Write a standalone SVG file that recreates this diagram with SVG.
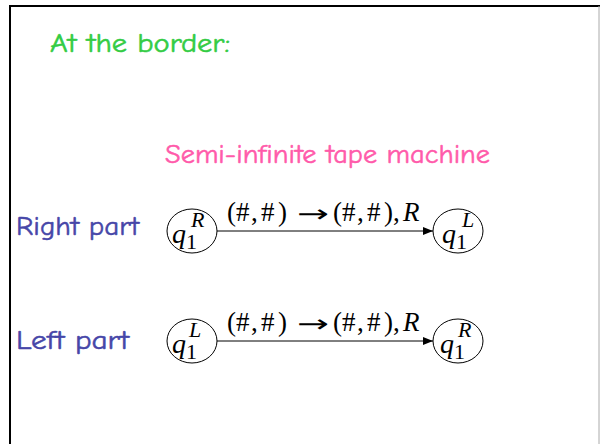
<svg xmlns="http://www.w3.org/2000/svg" width="600" height="444" viewBox="0 0 600 444">
<style>
.st{fill:#fff;stroke:#000;stroke-width:1}
.m{font-family:"Liberation Serif","Times New Roman",serif;fill:#000}
.i{font-style:italic}
.ar{font-family:"DejaVu Sans",sans-serif;fill:#000}
.c{font-family:"Comic Neue","Comic Sans MS","DejaVu Sans",sans-serif;font-size:26px;stroke-width:0.5px}
.edge{stroke:#000;stroke-width:1;fill:none;marker-end:url(#ah)}
</style>
<defs>
<marker id="ah" markerWidth="10" markerHeight="8" refX="10" refY="4" orient="auto" markerUnits="userSpaceOnUse">
<path d="M0,0 L10,4 L0,8 z" fill="#000"/>
</marker>
</defs>
<rect width="600" height="444" fill="#fff"/>
<line x1="9" y1="6" x2="600" y2="6" stroke="#000" stroke-width="2"/>
<line x1="10" y1="5" x2="10" y2="444" stroke="#000" stroke-width="2"/>
<line x1="599" y1="6" x2="599" y2="444" stroke="#aaa" stroke-width="1"/>
<text class="c" x="50" y="52" fill="#33cc44" stroke="#33cc44" textLength="180" lengthAdjust="spacingAndGlyphs">At the border:</text>
<text class="c" x="165" y="163" fill="#ff5aaa" stroke="#ff5aaa" textLength="325" lengthAdjust="spacingAndGlyphs">Semi-infinite tape machine</text>
<text class="c" x="16" y="235" fill="#4646a8" stroke="#4646a8" textLength="123" lengthAdjust="spacingAndGlyphs">Right part</text>
<text class="c" x="16" y="349" fill="#4646a8" stroke="#4646a8" textLength="113" lengthAdjust="spacingAndGlyphs">Left part</text>
<g id="connectors">
<line class="edge" x1="217" y1="231" x2="433" y2="231"/>
<text class="m" y="221" font-size="27"><tspan x="227">(</tspan><tspan x="236">#</tspan><tspan x="251">,</tspan><tspan x="261">#</tspan><tspan x="278">)</tspan></text>
<text class="ar" x="297" y="222" font-size="24" textLength="32" lengthAdjust="spacingAndGlyphs">→</text>
<text class="m" y="221" font-size="27"><tspan x="333">(</tspan><tspan x="342">#</tspan><tspan x="357">,</tspan><tspan x="367">#</tspan><tspan x="384">)</tspan><tspan x="393">,</tspan><tspan x="403" class="i">R</tspan></text>
<line class="edge" x1="217" y1="341" x2="433" y2="341"/>
<text class="m" y="331" font-size="27"><tspan x="227">(</tspan><tspan x="236">#</tspan><tspan x="251">,</tspan><tspan x="261">#</tspan><tspan x="278">)</tspan></text>
<text class="ar" x="297" y="332" font-size="24" textLength="32" lengthAdjust="spacingAndGlyphs">→</text>
<text class="m" y="331" font-size="27"><tspan x="333">(</tspan><tspan x="342">#</tspan><tspan x="357">,</tspan><tspan x="367">#</tspan><tspan x="384">)</tspan><tspan x="393">,</tspan><tspan x="403" class="i">R</tspan></text>
</g>
<g id="n1">
<ellipse class="st" cx="192" cy="231" rx="25" ry="22"/>
<text class="m i" x="172" y="243" font-size="28">q</text>
<text class="m" x="186" y="249" font-size="22">1</text>
<text class="m i" x="191" y="227" font-size="22">R</text>
</g>
<g id="n2">
<ellipse class="st" cx="458" cy="231" rx="25" ry="22"/>
<text class="m i" x="442" y="243" font-size="28">q</text>
<text class="m" x="456" y="249" font-size="22">1</text>
<text class="m i" x="462" y="227" font-size="22">L</text>
</g>
<g id="n3">
<ellipse class="st" cx="192" cy="341" rx="25" ry="22"/>
<text class="m i" x="172" y="353" font-size="28">q</text>
<text class="m" x="186" y="359" font-size="22">1</text>
<text class="m i" x="189" y="337" font-size="22">L</text>
</g>
<g id="n4">
<ellipse class="st" cx="458" cy="341" rx="25" ry="22"/>
<text class="m i" x="440" y="353" font-size="28">q</text>
<text class="m" x="454" y="359" font-size="22">1</text>
<text class="m i" x="458" y="337" font-size="22">R</text>
</g>
</svg>
